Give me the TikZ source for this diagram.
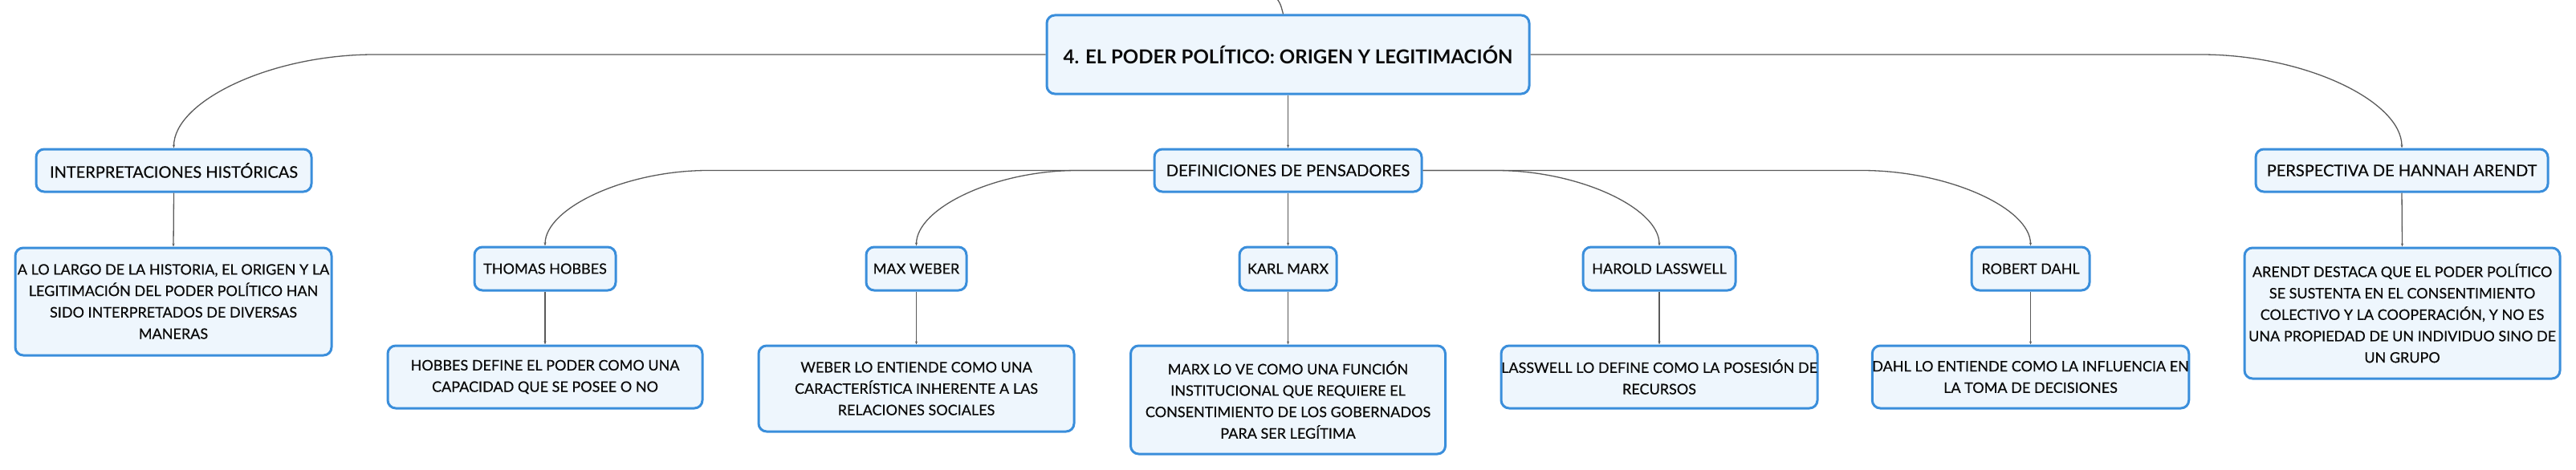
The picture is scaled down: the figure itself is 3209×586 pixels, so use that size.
\documentclass[tikz,border=0pt]{standalone}
\usepackage{fontspec}
\setmainfont{Lato}
\newfontfamily\medfont{Lato}[FakeBold=0.5]
\usetikzlibrary{arrows.meta}
\definecolor{bordc}{HTML}{3A8EDB}
\definecolor{fillc}{HTML}{EEF6FD}
\definecolor{linec}{HTML}{5A5A5A}
\definecolor{txtc}{HTML}{0A0A0A}
\tikzset{
  box/.style={draw=bordc, line width=3pt, fill=fillc, rounded corners=10pt,
    inner sep=0pt, align=center, text=txtc, font=\medfont\fontsize{18}{26.7}\selectfont},
  lvlone/.style={box, font=\medfont\fontsize{20}{27}\selectfont},
  rootbox/.style={box, font=\rmfamily\fontsize{24}{30}\selectfont\bfseries},
  conn/.style={draw=linec, line width=1.3pt, -{Stealth[length=4pt,width=3pt]}},
}
\begin{document}
\begin{tikzpicture}[x=1pt,y=-1pt]
\useasboundingbox (0,0) rectangle (3209,586);
\node[rootbox, minimum width=601pt, minimum height=98pt] (root) at (1604.5,68) {4. EL PODER POLÍTICO: ORIGEN Y LEGITIMACIÓN};
\node[lvlone, minimum width=343pt, minimum height=53pt] (interp) at (216.5,212.5) {INTERPRETACIONES HISTÓRICAS};
\node[lvlone, minimum width=333pt, minimum height=53pt] (defin) at (1604.5,212.5) {DEFINICIONES DE PENSADORES};
\node[lvlone, minimum width=364pt, minimum height=53pt] (persp) at (2992,212.5) {PERSPECTIVA DE HANNAH ARENDT};
\node[box, minimum width=394pt, minimum height=134pt] (alolargo) at (216,376) {A LO LARGO DE LA HISTORIA, EL ORIGEN Y LA\\LEGITIMACIÓN DEL PODER POLÍTICO HAN\\SIDO INTERPRETADOS DE DIVERSAS\\MANERAS};
\node[box, minimum width=176pt, minimum height=54pt] (hobbes) at (679,335) {THOMAS HOBBES};
\node[box, minimum width=125pt, minimum height=54pt] (weber) at (1141.5,335) {MAX WEBER};
\node[box, minimum width=121pt, minimum height=54pt] (marx) at (1604.5,335) {KARL MARX};
\node[box, minimum width=190pt, minimum height=54pt] (lasswell) at (2067,335) {HAROLD LASSWELL};
\node[box, minimum width=147pt, minimum height=54pt] (dahl) at (2529.5,335) {ROBERT DAHL};
\node[box, minimum width=392pt, minimum height=78pt] (hobbesd) at (679,470) {HOBBES DEFINE EL PODER COMO UNA\\CAPACIDAD QUE SE POSEE O NO};
\node[box, minimum width=393pt, minimum height=107pt] (weberd) at (1141.5,484.5) {WEBER LO ENTIENDE COMO UNA\\CARACTERÍSTICA INHERENTE A LAS\\RELACIONES SOCIALES};
\node[box, minimum width=392pt, minimum height=135pt] (marxd) at (1604.5,498.5) {MARX LO VE COMO UNA FUNCIÓN\\INSTITUCIONAL QUE REQUIERE EL\\CONSENTIMIENTO DE LOS GOBERNADOS\\PARA SER LEGÍTIMA};
\node[box, minimum width=394pt, minimum height=78pt] (lasswelld) at (2067,470) {LASSWELL LO DEFINE COMO LA POSESIÓN DE\\RECURSOS};
\node[box, minimum width=394pt, minimum height=78pt] (dahld) at (2529.5,470) {DAHL LO ENTIENDE COMO LA INFLUENCIA EN\\LA TOMA DE DECISIONES};
\node[box, minimum width=393pt, minimum height=163pt] (arendtd) at (2992.5,390.5) {ARENDT DESTACA QUE EL PODER POLÍTICO\\SE SUSTENTA EN EL CONSENTIMIENTO\\COLECTIVO Y LA COOPERACIÓN, Y NO ES\\UNA PROPIEDAD DE UN INDIVIDUO SINO DE\\UN GRUPO};
% incoming from above
\coordinate (up) at (1586,-8);
\draw[draw=linec, line width=1.3pt] (up) .. controls (1595,4) .. ([xshift=-6pt]root.north);
% level 1
\draw[conn] (root.west) -- ([xshift=250pt]interp.north |- root.west) .. controls ([xshift=120pt]interp.north |- root.west) and ([yshift=58pt]interp.north) .. (interp.north);
\draw[conn] (root.south) -- (defin.north);
\draw[conn] (root.east) -- ([xshift=-250pt]persp.north |- root.east) .. controls ([xshift=-120pt]persp.north |- root.east) and ([yshift=58pt]persp.north) .. (persp.north);
% level 2
\draw[conn] (interp.south) -- (alolargo.north);
\draw[conn] (persp.south) -- (arendtd.north);
\draw[conn] (defin.west) -- ([xshift=203pt]hobbes.north |- defin.west) .. controls ([xshift=100pt]hobbes.north |- defin.west) and ([yshift=47pt]hobbes.north) .. (hobbes.north);
\draw[conn] (defin.west) -- ([xshift=200pt]weber.north |- defin.west) .. controls ([xshift=98pt]weber.north |- defin.west) and ([yshift=47pt]weber.north) .. (weber.north);
\draw[conn] (defin.south) -- (marx.north);
\draw[conn] (defin.east) -- ([xshift=-203pt]lasswell.north |- defin.east) .. controls ([xshift=-100pt]lasswell.north |- defin.east) and ([yshift=47pt]lasswell.north) .. (lasswell.north);
\draw[conn] (defin.east) -- ([xshift=-210pt]dahl.north |- defin.east) .. controls ([xshift=-103pt]dahl.north |- defin.east) and ([yshift=47pt]dahl.north) .. (dahl.north);
% level 3
\draw[conn] (hobbes.south) -- (hobbesd.north);
\draw[conn] (weber.south) -- (weberd.north);
\draw[conn] (marx.south) -- (marxd.north);
\draw[conn] (lasswell.south) -- (lasswelld.north);
\draw[conn] (dahl.south) -- (dahld.north);
\end{tikzpicture}
\end{document}
